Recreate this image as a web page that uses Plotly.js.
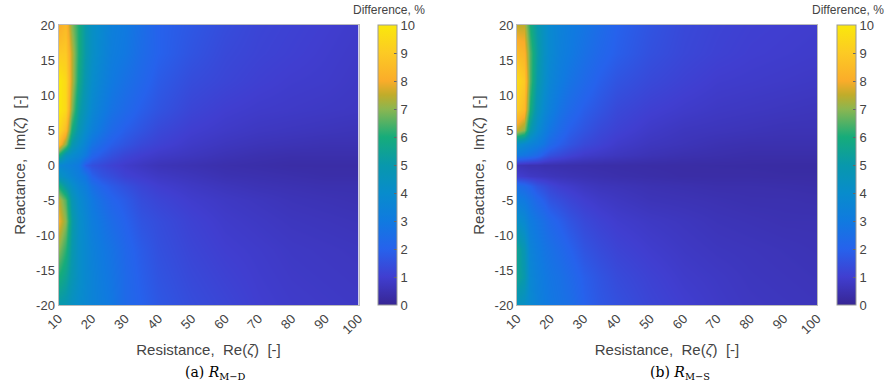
<!DOCTYPE html>
<html>
<head>
<meta charset="utf-8">
<script src="https://cdn.plot.ly/plotly-3.0.1.min.js"></script>
<style>html,body{margin:0;padding:0;background:#fff;}#chart{width:886px;height:392px;}</style>
</head>
<body>
<div id="chart"></div>
<script>
// Resistance Re(zeta) grid (x)
const resistance = [10,12,14,16,18,20,23,26,30,35,40,50,60,70,80,90,100];
// Reactance Im(zeta) grid (y)
const reactance = [-20,-16,-12,-8,-5,-3,-1.5,0,1.5,3,5,8,12,16,20];

// (a) R_M-D difference, % (rows follow reactance, columns follow resistance)
const diffMD = [
  [5.0,4.8,4.3,4.0,3.7,3.5,3.2,2.9,2.3,2.0,1.7,1.4,1.2,1.0,0.9,0.85,0.8],
  [6.0,5.5,4.8,4.2,3.8,3.5,3.1,2.8,2.3,1.9,1.6,1.3,1.1,0.95,0.85,0.8,0.75],
  [7.0,6.2,5.0,4.2,3.8,3.4,3.0,2.7,2.2,1.8,1.5,1.2,1.0,0.9,0.8,0.75,0.7],
  [8.0,7.0,5.2,4.2,3.7,3.2,2.8,2.4,2.0,1.6,1.4,1.1,0.9,0.8,0.7,0.65,0.6],
  [7.5,6.5,4.8,4.0,3.5,3.0,2.5,2.1,1.8,1.4,1.2,0.95,0.8,0.7,0.6,0.55,0.5],
  [6.0,5.0,4.2,3.6,3.2,2.6,2.1,1.8,1.5,1.2,1.0,0.8,0.65,0.55,0.5,0.45,0.45],
  [4.5,4.0,3.6,3.2,2.8,2.0,1.6,1.4,1.1,0.95,0.8,0.65,0.5,0.45,0.4,0.35,0.35],
  [3.8,3.5,3.3,3.0,1.8,1.5,1.3,1.1,0.9,0.75,0.6,0.5,0.4,0.35,0.3,0.3,0.3],
  [6.0,4.5,4.0,3.6,3.0,2.2,1.8,1.5,1.2,1.0,0.85,0.7,0.55,0.45,0.4,0.4,0.4],
  [8.5,7.0,5.0,4.2,3.5,2.8,2.3,1.9,1.6,1.3,1.1,0.85,0.7,0.6,0.55,0.5,0.5],
  [9.5,8.5,6.0,4.8,4.0,3.4,2.8,2.3,1.9,1.6,1.3,1.0,0.85,0.75,0.7,0.65,0.6],
  [10.0,9.5,7.0,5.3,4.5,3.8,3.2,2.7,2.3,1.9,1.6,1.2,1.0,0.9,0.85,0.8,0.75],
  [10.0,9.5,7.5,5.8,4.8,4.1,3.5,3.0,2.6,2.2,1.8,1.4,1.2,1.05,0.95,0.9,0.8],
  [9.0,9.0,7.5,6.0,5.0,4.3,3.7,3.2,2.9,2.4,2.0,1.6,1.3,1.15,1.05,0.95,0.85],
  [8.0,8.5,7.0,6.0,5.0,4.3,3.8,3.3,3.0,2.5,2.0,1.7,1.4,1.2,1.1,1.0,0.9]
];

// (b) R_M-S difference, %
const diffMS = [
  [4.5,4.2,3.8,3.4,3.1,2.9,2.7,2.5,2.0,1.7,1.5,1.2,1.0,0.85,0.75,0.7,0.65],
  [5.5,5.0,3.7,3.3,3.0,2.8,2.6,2.3,1.9,1.6,1.35,1.1,0.9,0.8,0.7,0.65,0.6],
  [5.5,4.8,3.5,3.1,2.8,2.6,2.3,2.0,1.6,1.35,1.15,0.95,0.8,0.7,0.65,0.6,0.55],
  [4.2,3.8,3.1,2.8,2.5,2.2,1.9,1.6,1.3,1.1,0.95,0.8,0.7,0.6,0.55,0.5,0.5],
  [3.2,3.0,2.6,2.2,1.9,1.6,1.4,1.2,1.0,0.85,0.75,0.6,0.55,0.5,0.45,0.45,0.42],
  [2.5,2.3,2.0,1.6,1.4,1.2,1.0,0.9,0.75,0.65,0.6,0.5,0.45,0.4,0.4,0.38,0.35],
  [1.0,0.9,0.8,0.75,0.7,0.65,0.6,0.55,0.5,0.45,0.4,0.35,0.3,0.3,0.3,0.28,0.28],
  [0.6,0.55,0.5,0.5,0.45,0.45,0.42,0.4,0.38,0.35,0.33,0.3,0.28,0.27,0.26,0.25,0.25],
  [3.0,2.8,2.6,2.3,1.8,1.5,1.3,1.1,0.9,0.8,0.7,0.55,0.45,0.4,0.35,0.35,0.35],
  [4.2,3.8,3.5,3.2,2.8,2.3,1.9,1.6,1.3,1.1,0.9,0.7,0.6,0.5,0.45,0.45,0.45],
  [7.5,7.0,5.0,4.0,3.3,2.8,2.3,1.9,1.6,1.3,1.1,0.85,0.7,0.65,0.6,0.55,0.55],
  [9.0,8.5,6.0,4.6,3.8,3.3,2.7,2.3,1.9,1.6,1.3,1.05,0.9,0.8,0.75,0.7,0.65],
  [9.5,9.0,6.5,5.0,4.2,3.6,3.1,2.7,2.3,1.9,1.6,1.3,1.1,0.95,0.9,0.85,0.8],
  [8.5,8.3,6.5,5.2,4.3,3.8,3.3,3.0,2.6,2.2,1.9,1.5,1.25,1.1,1.0,0.95,0.9],
  [7.5,7.5,6.0,5.0,4.3,3.8,3.4,3.1,2.8,2.4,2.0,1.6,1.3,1.15,1.05,1.0,0.95]
];

const xTicks = [10,20,30,40,50,60,70,80,90,100];
const yTicks = [-20,-15,-10,-5,0,5,10,15,20];
const cbTicks = [0,1,2,3,4,5,6,7,8,9,10];

const parula = [
  [0.0,'rgb(55,38,148)'],
  [0.1,'rgb(64,62,208)'],
  [0.2,'rgb(38,98,236)'],
  [0.3,'rgb(16,122,224)'],
  [0.4,'rgb(8,140,204)'],
  [0.5,'rgb(8,152,172)'],
  [0.6,'rgb(22,172,122)'],
  [0.7,'rgb(140,182,80)'],
  [0.75,'rgb(192,172,42)'],
  [0.8,'rgb(250,172,42)'],
  [0.9,'rgb(252,202,36)'],
  [1.0,'rgb(250,232,12)']
];

const W = 886, H = 392;
const pxX = p => p / W;
const pxY = p => 1 - p / H;
const sans = 'Liberation Sans, Arial, sans-serif';
const tickFont = {family: sans, size: 13, color: '#444'};
const titleFont = {family: sans, size: 15, color: '#444'};

function cb(xpx) {
  return {
    x: pxX(xpx), xanchor: 'left', xref: 'paper',
    y: pxY(25), yanchor: 'top', len: 280 / H, lenmode: 'fraction',
    thickness: 19, thicknessmode: 'pixels',
    outlinewidth: 1, outlinecolor: '#999',
    ticks: 'inside', ticklen: 3, tickcolor: '#666',
    tickvals: cbTicks, ticktext: cbTicks.map(String),
    tickfont: {family: sans, size: 13, color: '#444'},
    xpad: 0, ypad: 0
  };
}

const traces = [
  {type: 'heatmap', x: resistance, y: reactance, z: diffMD, zmin: 0, zmax: 10,
   colorscale: parula, zsmooth: 'best', xaxis: 'x', yaxis: 'y', colorbar: cb(378)},
  {type: 'heatmap', x: resistance, y: reactance, z: diffMS, zmin: 0, zmax: 10,
   colorscale: parula, zsmooth: 'best', xaxis: 'x2', yaxis: 'y2', colorbar: cb(837)}
];

function xax(d0, d1, anchor) {
  return {domain: [pxX(d0), pxX(d1)], anchor: anchor, range: [10, 100],
    tickvals: xTicks, ticktext: xTicks.map(String), tickangle: -45,
    tickfont: tickFont, ticks: '', showgrid: false, zeroline: false,
    showline: true, mirror: true, linecolor: '#bbb', linewidth: 1,
    title: {text: 'Resistance,  Re(<i>ζ</i>)  [-]', font: titleFont, standoff: 8}};
}
function yax(anchor) {
  return {domain: [pxY(305), pxY(25)], anchor: anchor, range: [-20, 20],
    tickvals: yTicks, ticktext: yTicks.map(String),
    tickfont: tickFont, ticks: '', showgrid: false, zeroline: false,
    showline: true, mirror: true, linecolor: '#bbb', linewidth: 1,
    title: {text: 'Reactance,  Im(<i>ζ</i>)  [-]', font: titleFont, standoff: 6}};
}

const capFont = {family: 'DejaVu Serif, Liberation Serif, serif', size: 14, color: '#000'};
const layout = {
  width: W, height: H,
  margin: {l: 0, r: 0, t: 0, b: 0},
  paper_bgcolor: '#fff', plot_bgcolor: '#fff',
  showlegend: false,
  xaxis: xax(58.5, 358.5, 'y'),
  yaxis: yax('x'),
  xaxis2: xax(517, 817, 'y2'),
  yaxis2: yax('x2'),
  annotations: [
    {text: 'Difference, %', xref: 'paper', yref: 'paper', x: pxX(389), y: pxY(10),
     xanchor: 'center', yanchor: 'middle', showarrow: false,
     font: {family: sans, size: 12, color: '#444'}},
    {text: 'Difference, %', xref: 'paper', yref: 'paper', x: pxX(848), y: pxY(10),
     xanchor: 'center', yanchor: 'middle', showarrow: false,
     font: {family: sans, size: 12, color: '#444'}},
    {text: '(a) <i>R</i><sub>M−D</sub>', xref: 'paper', yref: 'paper', x: pxX(215), y: pxY(373),
     xanchor: 'center', yanchor: 'middle', showarrow: false, font: capFont},
    {text: '(b) <i>R</i><sub>M−S</sub>', xref: 'paper', yref: 'paper', x: pxX(680), y: pxY(373),
     xanchor: 'center', yanchor: 'middle', showarrow: false, font: capFont}
  ]
};

Plotly.newPlot('chart', traces, layout, {staticPlot: true, displayModeBar: false});
</script>
</body>
</html>
